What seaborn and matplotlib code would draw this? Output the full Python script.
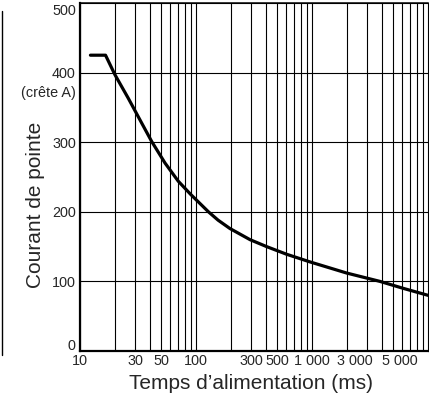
import pandas as pd
import matplotlib
matplotlib.use("Agg")
import matplotlib.pyplot as plt
from matplotlib.lines import Line2D
from matplotlib.ticker import LogLocator, NullFormatter
from matplotlib.transforms import ScaledTranslation
import seaborn as sns

# valeurs
temps_ms = [12.3, 16.6, 20, 26.1, 32.9, 41.5, 54.1, 70.3, 90, 128, 155, 196, 292, 406, 604, 961, 1991, 3855, 6124, 10000]
courant_a = [425, 425, 397, 363, 332, 301, 270, 244, 225, 200, 188, 176, 160, 150, 139, 128, 112, 100, 90, 80]

x_ticks = [10, 30, 50, 100, 300, 500, 1000, 3000, 5000]
x_labels = ["10", "30", "50", "100", "300", "500", "1 000", "3 000", "5 000"]
y_ticks = [0, 100, 200, 300, 400, 500]

df = pd.DataFrame({"Temps": temps_ms, "Courant": courant_a})

sns.set_style("white")
plt.rcParams["font.family"] = ["Liberation Sans", "DejaVu Sans"]

fig = plt.figure(figsize=(4.29, 4.07), dpi=100)
ax = fig.add_axes([80 / 429, 56 / 407, 348 / 429, 348 / 407])

sns.lineplot(data=df, x="Temps", y="Courant", color="black", linewidth=2.3, ax=ax)

ax.set_xscale("log")
ax.set_xlim(10, 10000)
ax.set_ylim(0, 500)
ax.xaxis.set_minor_locator(LogLocator(base=10, subs=range(2, 10)))
ax.xaxis.set_minor_formatter(NullFormatter())
ax.set_xticks(x_ticks)
ax.set_xticklabels(x_labels)
ax.set_yticks(y_ticks)
ax.tick_params(axis="both", which="both", length=0, labelsize=10.4)
ax.tick_params(axis="x", pad=2)
ax.tick_params(axis="y", pad=3)

# certaines étiquettes sont décalées dans l'original
labels = ax.get_xticklabels()
for lab, dx in [(labels[7], -0.13), (labels[8], 0.07)]:
    lab.set_transform(lab.get_transform() + ScaledTranslation(dx, 0, fig.dpi_scale_trans))
ylabels = ax.get_yticklabels()
for lab, dy in [(ylabels[0], 0.06), (ylabels[5], -0.065)]:
    lab.set_transform(lab.get_transform() + ScaledTranslation(0, dy, fig.dpi_scale_trans))

ax.grid(axis="x", which="both", color="black", linewidth=0.8)
ax.grid(axis="y", which="major", color="black", linewidth=0.8)

for side, lw in {"left": 1.6, "bottom": 1.6, "top": 1.1, "right": 0.8}.items():
    ax.spines[side].set_visible(True)
    ax.spines[side].set_color("black")
    ax.spines[side].set_linewidth(lw)

ax.set_xlabel("Temps d\u2019alimentation (ms)", fontsize=15)
ax.xaxis.set_label_coords(0.491, -0.066)
ax.set_ylabel("Courant de pointe", fontsize=15, va="center")
ax.yaxis.set_label_coords(-0.127, 0.42)
ax.text(-0.012, 0.742, "(crête A)", transform=ax.transAxes, ha="right", va="center", fontsize=10.4)

# trait vertical en bordure gauche de la page
fig.add_artist(Line2D([1.5 / 429, 1.5 / 429], [52 / 407, 396 / 407], color="black", linewidth=1.0))

fig.savefig("out.png", dpi=100)
